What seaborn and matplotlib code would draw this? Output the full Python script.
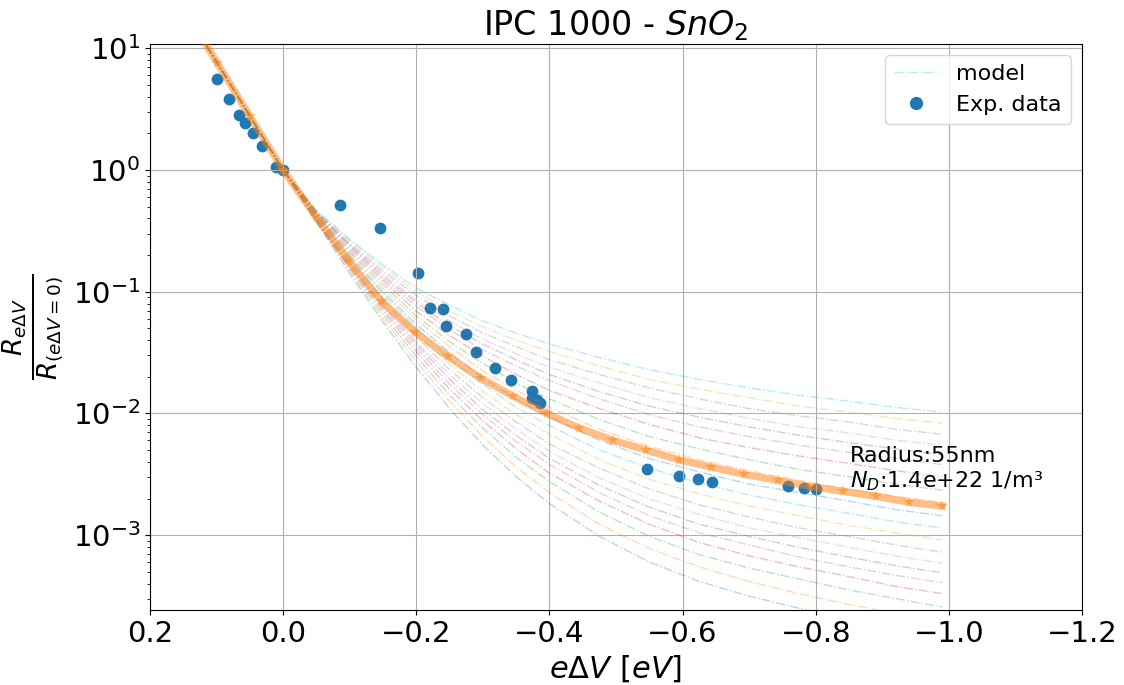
import numpy as np
import pandas as pd
import matplotlib
matplotlib.use("Agg")
import matplotlib.pyplot as plt
from matplotlib.lines import Line2D
import seaborn as sns

# ---------------- data ----------------
# experimental points: eΔV [eV] and R(eΔV)/R(0)
exp_x = [0.099, 0.081, 0.066, 0.057, 0.046, 0.032, 0.011, 0.000, -0.086, -0.146,
         -0.202, -0.220, -0.240, -0.245, -0.274, -0.289, -0.318, -0.342, -0.374,
         -0.374, -0.381, -0.386, -0.547, -0.595, -0.623, -0.644, -0.759, -0.783, -0.800]
exp_y = [5.56, 3.81, 2.83, 2.42, 2.00, 1.58, 1.05, 1.00, 0.515, 0.336,
         0.1415, 0.0739, 0.0725, 0.0519, 0.0447, 0.0320, 0.0235, 0.0190, 0.0153,
         0.0135, 0.0129, 0.0123, 0.00347, 0.00308, 0.00287, 0.00271, 0.00255, 0.00243, 0.00238]

# best-fit model curve (Radius 55 nm, N_D 1.4e22)
best_x = [0.149, 0.099, 0.050, 0.000, -0.050, -0.099, -0.148, -0.198, -0.247, -0.297,
          -0.346, -0.396, -0.445, -0.495, -0.545, -0.594, -0.643, -0.693, -0.743,
          -0.792, -0.841, -0.891, -0.940, -0.990]
best_log10 = [1.32, 0.88, 0.44, 0.00, -0.39, -0.75, -1.08, -1.33, -1.53, -1.71,
              -1.86, -2.00, -2.12, -2.22, -2.30, -2.38, -2.44, -2.50, -2.55,
              -2.60, -2.64, -2.68, -2.73, -2.76]

# family of model curves (log10 of the ratio)
model_x = [0.15, 0.0, -0.05, -0.1, -0.15, -0.2, -0.25, -0.3, -0.35, -0.4, -0.475,
           -0.55, -0.625, -0.7, -0.775, -0.85, -0.92, -0.99]
model_head = [1.33, 0.0]          # shared part for eΔV >= 0
model_tails = [
    [-0.43, -0.85, -1.25, -1.62, -1.96, -2.26, -2.52, -2.74, -3.01, -3.22, -3.38, -3.50, -3.60, -3.69, -3.77, -3.84],
    [-0.42, -0.83, -1.22, -1.57, -1.90, -2.19, -2.44, -2.65, -2.91, -3.11, -3.26, -3.38, -3.48, -3.57, -3.64, -3.71],
    [-0.42, -0.81, -1.19, -1.53, -1.85, -2.12, -2.36, -2.56, -2.81, -3.01, -3.16, -3.27, -3.36, -3.45, -3.52, -3.59],
    [-0.41, -0.80, -1.16, -1.49, -1.80, -2.06, -2.29, -2.49, -2.72, -2.91, -3.06, -3.17, -3.26, -3.34, -3.42, -3.48],
    [-0.41, -0.78, -1.14, -1.46, -1.76, -2.01, -2.23, -2.42, -2.65, -2.84, -2.98, -3.08, -3.18, -3.26, -3.33, -3.39],
    [-0.40, -0.77, -1.12, -1.43, -1.72, -1.97, -2.18, -2.37, -2.59, -2.77, -2.91, -3.01, -3.10, -3.18, -3.25, -3.31],
    [-0.40, -0.76, -1.10, -1.41, -1.68, -1.92, -2.13, -2.31, -2.53, -2.70, -2.83, -2.94, -3.02, -3.10, -3.17, -3.23],
    [-0.39, -0.74, -1.07, -1.37, -1.64, -1.87, -2.07, -2.25, -2.45, -2.62, -2.75, -2.85, -2.94, -3.01, -3.08, -3.14],
    [-0.39, -0.73, -1.05, -1.34, -1.60, -1.82, -2.01, -2.17, -2.38, -2.54, -2.66, -2.76, -2.84, -2.92, -2.98, -3.04],
    [-0.38, -0.71, -1.02, -1.30, -1.55, -1.76, -1.95, -2.10, -2.30, -2.45, -2.57, -2.67, -2.75, -2.82, -2.89, -2.94],
    [-0.38, -0.70, -1.00, -1.27, -1.50, -1.71, -1.88, -2.03, -2.22, -2.37, -2.48, -2.58, -2.65, -2.72, -2.79, -2.84],
    [-0.37, -0.68, -0.97, -1.23, -1.45, -1.65, -1.81, -1.95, -2.13, -2.27, -2.38, -2.47, -2.55, -2.62, -2.68, -2.73],
    [-0.37, -0.67, -0.94, -1.20, -1.41, -1.59, -1.75, -1.88, -2.05, -2.19, -2.29, -2.38, -2.46, -2.52, -2.58, -2.63],
    [-0.36, -0.65, -0.91, -1.16, -1.36, -1.53, -1.68, -1.81, -1.96, -2.09, -2.20, -2.28, -2.35, -2.41, -2.47, -2.52],
    [-0.35, -0.63, -0.89, -1.12, -1.31, -1.48, -1.61, -1.73, -1.88, -2.01, -2.11, -2.19, -2.26, -2.32, -2.37, -2.42],
    [-0.35, -0.62, -0.87, -1.09, -1.28, -1.43, -1.56, -1.68, -1.82, -1.94, -2.03, -2.11, -2.18, -2.24, -2.29, -2.34],
    [-0.35, -0.61, -0.85, -1.07, -1.24, -1.39, -1.51, -1.62, -1.75, -1.87, -1.96, -2.04, -2.11, -2.16, -2.22, -2.26],
    [-0.34, -0.60, -0.83, -1.03, -1.20, -1.34, -1.45, -1.56, -1.68, -1.79, -1.88, -1.96, -2.02, -2.07, -2.13, -2.17],
    [-0.34, -0.58, -0.80, -1.00, -1.16, -1.29, -1.40, -1.49, -1.61, -1.72, -1.80, -1.87, -1.94, -1.99, -2.04, -2.08],
    [-0.33, -0.57, -0.78, -0.97, -1.11, -1.24, -1.34, -1.43, -1.54, -1.64, -1.72, -1.79, -1.85, -1.90, -1.95, -1.99],
]

x_ticks = [0.2, 0.0, -0.2, -0.4, -0.6, -0.8, -1.0, -1.2]
title = "IPC 1000 - $SnO_2$"
annotation = "Radius:55nm\n$N_D$:1.4e+22 1/m\u00b3"

# ---------------- figure ----------------
fig, ax = plt.subplots(figsize=(11.24, 6.85), dpi=100)
fig.subplots_adjust(left=0.1335, right=0.9626, top=0.9358, bottom=0.1095)
ax.set_yscale("log")

sns.scatterplot(x=exp_x, y=exp_y, ax=ax, color="C0", s=72, linewidth=0,
                legend=False, zorder=1)

for i, tail in enumerate(model_tails):
    ys = 10 ** np.array(model_head + tail)
    sns.lineplot(x=model_x, y=ys, ax=ax, color=f"C{i % 10}", linestyle="-.",
                 linewidth=1.0, alpha=0.3, sort=False, legend=False, zorder=2)

sns.lineplot(x=best_x, y=10 ** np.array(best_log10), ax=ax, color="C1",
             linewidth=5.2, alpha=0.5, marker="*", markersize=8.5, markeredgewidth=0,
             sort=False, legend=False, zorder=3)

ax.set_xlim(0.2, -1.2)
ax.set_ylim(2.43e-4, 10.85)
ax.set_xticks(x_ticks)
ax.grid(True, which="major", color="#b0b0b0", linewidth=0.8)
ax.tick_params(axis="both", which="major", labelsize=21)

ax.set_title(title, fontsize=24)
ax.set_xlabel(r"$e\Delta V\ [eV]$", fontsize=22)
ax.set_ylabel(r"$\frac{R_{e\Delta V}}{R_{(e\Delta V=0)}}$", fontsize=27)

ax.text(0.751, 0.207, annotation, transform=ax.transAxes, fontsize=16,
        ha="left", va="bottom", linespacing=1.2)

handles = [
    Line2D([], [], color="C9", linestyle="-.", linewidth=1.0, alpha=0.3),
    Line2D([], [], color="C0", marker="o", linestyle="none", markersize=8.5),
]
ax.legend(handles, ["model", "Exp. data"], loc="upper right", fontsize=16)

fig.savefig("out.png", dpi=100)
